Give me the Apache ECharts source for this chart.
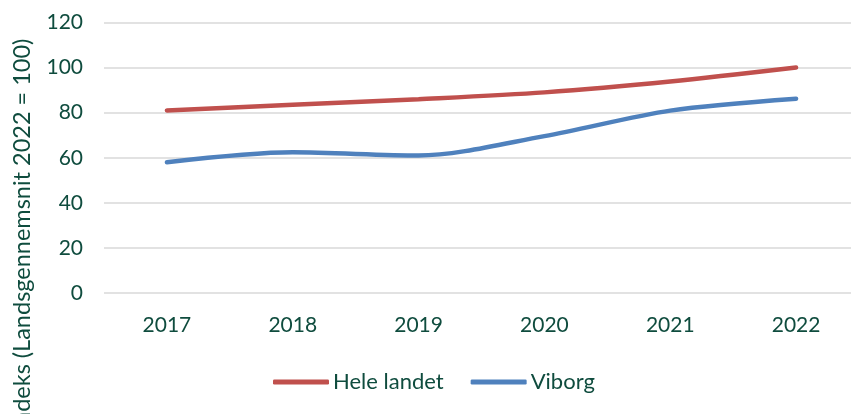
<!DOCTYPE html>
<html>
<head>
<meta charset="utf-8">
<script src="https://cdn.jsdelivr.net/npm/echarts@6/dist/echarts.min.js"></script>
<style>html,body{margin:0;padding:0;background:#fff;overflow:hidden;}#c{width:862px;height:414px;}</style>
</head>
<body>
<div id="c"></div>
<script>
const categories = ['2017', '2018', '2019', '2020', '2021', '2022'];
const heleLandet = [81, 83.5, 86, 89, 93.8, 100];
const viborg = [58, 62.4, 61, 69.6, 80.9, 86.2];
const seriesNames = ['Hele landet', 'Viborg'];
const yAxisTitle = 'Indeks (Landsgennemsnit 2022 = 100)';

const textColor = '#0F4C3E';
const font = 'Lato';
const chart = echarts.init(document.getElementById('c'), null, {renderer: 'canvas'});
chart.setOption({
  animation: false,
  backgroundColor: '#fff',
  grid: {left: 104, top: 22.5, width: 755, height: 270.5},
  xAxis: {
    type: 'category',
    data: categories,
    boundaryGap: true,
    axisLine: {show: false},
    axisTick: {show: false},
    axisLabel: {color: textColor, fontFamily: font, fontSize: 21, margin: 22}
  },
  yAxis: {
    type: 'value',
    min: 0, max: 120, interval: 20,
    axisLine: {show: false},
    axisTick: {show: false},
    axisLabel: {color: textColor, fontFamily: font, fontSize: 21, margin: 21},
    splitLine: {lineStyle: {color: '#D9D9D9', width: 1.5}}
  },
  legend: {
    left: 268, top: 366,
    itemWidth: 56, itemHeight: 5, itemGap: 27,
    icon: 'roundRect',
    textStyle: {color: textColor, fontFamily: font, fontSize: 22, padding: [0, 0, 0, -1]},
    data: seriesNames
  },
  graphic: [{
    type: 'text',
    x: 22, y: 235,
    rotation: Math.PI / 2,
    style: {text: yAxisTitle, fill: textColor, font: '23.5px Lato', align: 'center', verticalAlign: 'middle'}
  }],
  series: [
    {name: seriesNames[0], type: 'line', data: heleLandet, smooth: 0.3, symbol: 'none',
     lineStyle: {color: '#C0504D', width: 4.5, cap: 'round'}, itemStyle: {color: '#C0504D'}},
    {name: seriesNames[1], type: 'line', data: viborg, smooth: 0.3, symbol: 'none',
     lineStyle: {color: '#4F81BD', width: 4.5, cap: 'round'}, itemStyle: {color: '#4F81BD'}}
  ]
});
</script>
</body>
</html>
